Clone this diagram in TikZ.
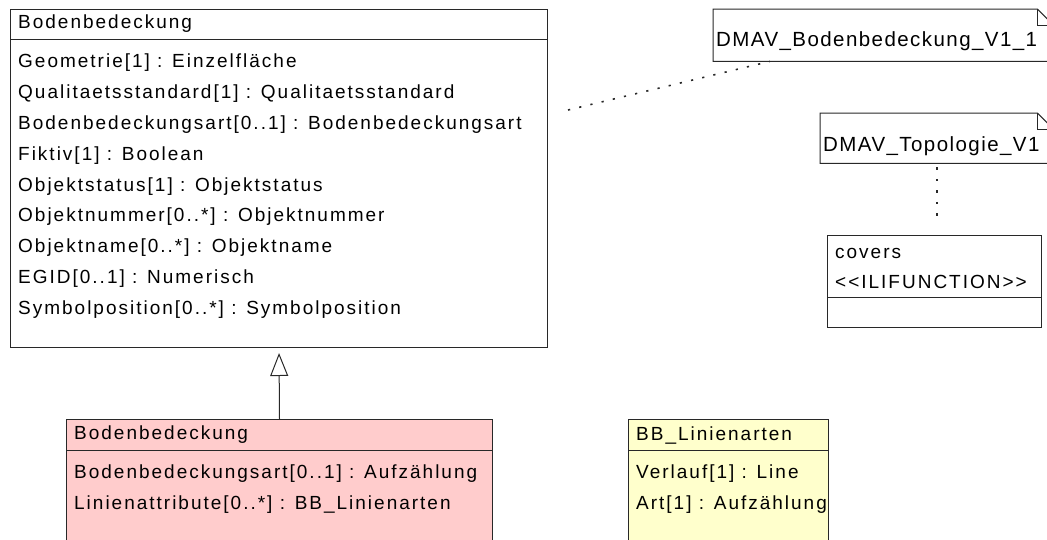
\documentclass[tikz,border=0pt]{standalone}
\usepackage{fontspec}
\setmainfont{Liberation Sans}[LetterSpace=10.5]
\newfontfamily\notefont{Liberation Sans}[LetterSpace=7]
\usetikzlibrary{arrows.meta}
\definecolor{pinkfill}{RGB}{255,204,204}
\definecolor{yellowfill}{RGB}{255,255,204}
\definecolor{umlline}{RGB}{40,40,40}

\begin{document}
\begin{tikzpicture}[x=1pt, y=-1pt,
    classbox/.style={draw=umlline, line width=1pt, anchor=north west, inner sep=0pt},
    attr/.style={anchor=west, inner sep=0pt, font=\fontsize{19}{22}\selectfont},
    pkgframe/.style={anchor=north west, inner sep=0pt},
    pkglabel/.style={anchor=west, inner sep=0pt, font=\notefont\fontsize{20.5}{24}\selectfont},
    generalize/.style={draw=umlline, line width=1pt, -{Triangle[open, length=23pt, width=18pt, line width=1pt]}, shorten >=5pt},
    dotline/.style={draw=umlline, line width=1.6pt, dash pattern=on 2.2pt off 9.3pt}]
  \useasboundingbox (0,0) rectangle (1047,539);
  \clip (0,0) rectangle (1047,539);

  \node[classbox, fill=white, minimum width=537pt, minimum height=338pt] (base) at (10,9) {};
  \draw[umlline, line width=1pt] ([yshift=-30pt]base.north west) -- ([yshift=-30pt]base.north east);
  \node[attr] (basename) at (18,24) {Bodenbedeckung};
  \node[attr] (geometrie) at (18,63) {Geometrie[1] : Einzelfläche};
  \node[attr] (qualitaet) at (18,94) {Qualitaetsstandard[1] : Qualitaetsstandard};
  \node[attr] (bbart) at (18,125) {Bodenbedeckungsart[0..1] : Bodenbedeckungsart};
  \node[attr] (fiktiv) at (18,156) {Fiktiv[1] : Boolean};
  \node[attr] (objstatus) at (18,187) {Objektstatus[1] : Objektstatus};
  \node[attr] (objnummer) at (18,217) {Objektnummer[0..*] : Objektnummer};
  \node[attr] (objname) at (18,248) {Objektname[0..*] : Objektname};
  \node[attr] (egid) at (18,279) {EGID[0..1] : Numerisch};
  \node[attr] (sympos) at (18,310) {Symbolposition[0..*] : Symbolposition};

  \node[classbox, fill=pinkfill, minimum width=426pt, minimum height=140pt] (linecls) at (66,419) {};
  \draw[umlline, line width=1pt] ([yshift=-31pt]linecls.north west) -- ([yshift=-31pt]linecls.north east);
  \node[attr] (linename) at (74,435) {Bodenbedeckung};
  \node[attr] (lineart) at (74,474) {Bodenbedeckungsart[0..1] : Aufzählung};
  \node[attr] (lineattr) at (74,505) {Linienattribute[0..*] : BB\_Linienarten};

  \node[classbox, fill=yellowfill, minimum width=200pt, minimum height=140pt] (linearten) at (628,419) {};
  \draw[umlline, line width=1pt] ([yshift=-31pt]linearten.north west) -- ([yshift=-31pt]linearten.north east);
  \node[attr] (lineartenname) at (636,435) {BB\_Linienarten};
  \node[attr] (verlauf) at (636,474) {Verlauf[1] : Line};
  \node[attr] (art) at (636,505) {Art[1] : Aufzählung};

  \node[classbox, fill=white, minimum width=214pt, minimum height=92pt] (covers) at (827,235) {};
  \draw[umlline, line width=1pt] ([yshift=-62pt]covers.north west) -- ([yshift=-62pt]covers.north east);
  \node[attr] (coversname) at (835,253) {covers};
  \node[attr] (coversstereo) at (835,282) {{<}{<}ILIFUNCTION{>}{>}};

  \node[pkgframe, minimum width=340pt, minimum height=52pt] (bbpkg) at (713,9) {};
  \draw[umlline, line width=1pt] (bbpkg.north west) -- ([xshift=-16pt]bbpkg.north east) -- ([yshift=-16pt]bbpkg.north east) -- (bbpkg.south east) -- (bbpkg.south west) -- cycle;
  \draw[umlline, line width=1pt] ([xshift=-16pt]bbpkg.north east) -- ([xshift=-16pt, yshift=-16pt]bbpkg.north east) -- ([yshift=-16pt]bbpkg.north east);
  \node[pkglabel] (bbpkgname) at (716,41) {DMAV\_Bodenbedeckung\_V1\_1};

  \node[pkgframe, minimum width=233pt, minimum height=50pt] (topopkg) at (820,113) {};
  \draw[umlline, line width=1pt] (topopkg.north west) -- ([xshift=-16pt]topopkg.north east) -- ([yshift=-16pt]topopkg.north east) -- (topopkg.south east) -- (topopkg.south west) -- cycle;
  \draw[umlline, line width=1pt] ([xshift=-16pt]topopkg.north east) -- ([xshift=-16pt, yshift=-16pt]topopkg.north east) -- ([yshift=-16pt]topopkg.north east);
  \node[pkglabel] (topopkgname) at (823,146) {DMAV\_Topologie\_V1};

  \draw[generalize] (linecls.north) -- (base.south);
  \coordinate (bbdepend) at (568,110);
  \draw[dotline] (bbdepend) -- ([xshift=57pt]bbpkg.south west);
  \draw[dotline, shorten <=4pt, shorten >=12pt] (topopkg.south) -- (covers.north -| topopkg.south);
\end{tikzpicture}
\end{document}
